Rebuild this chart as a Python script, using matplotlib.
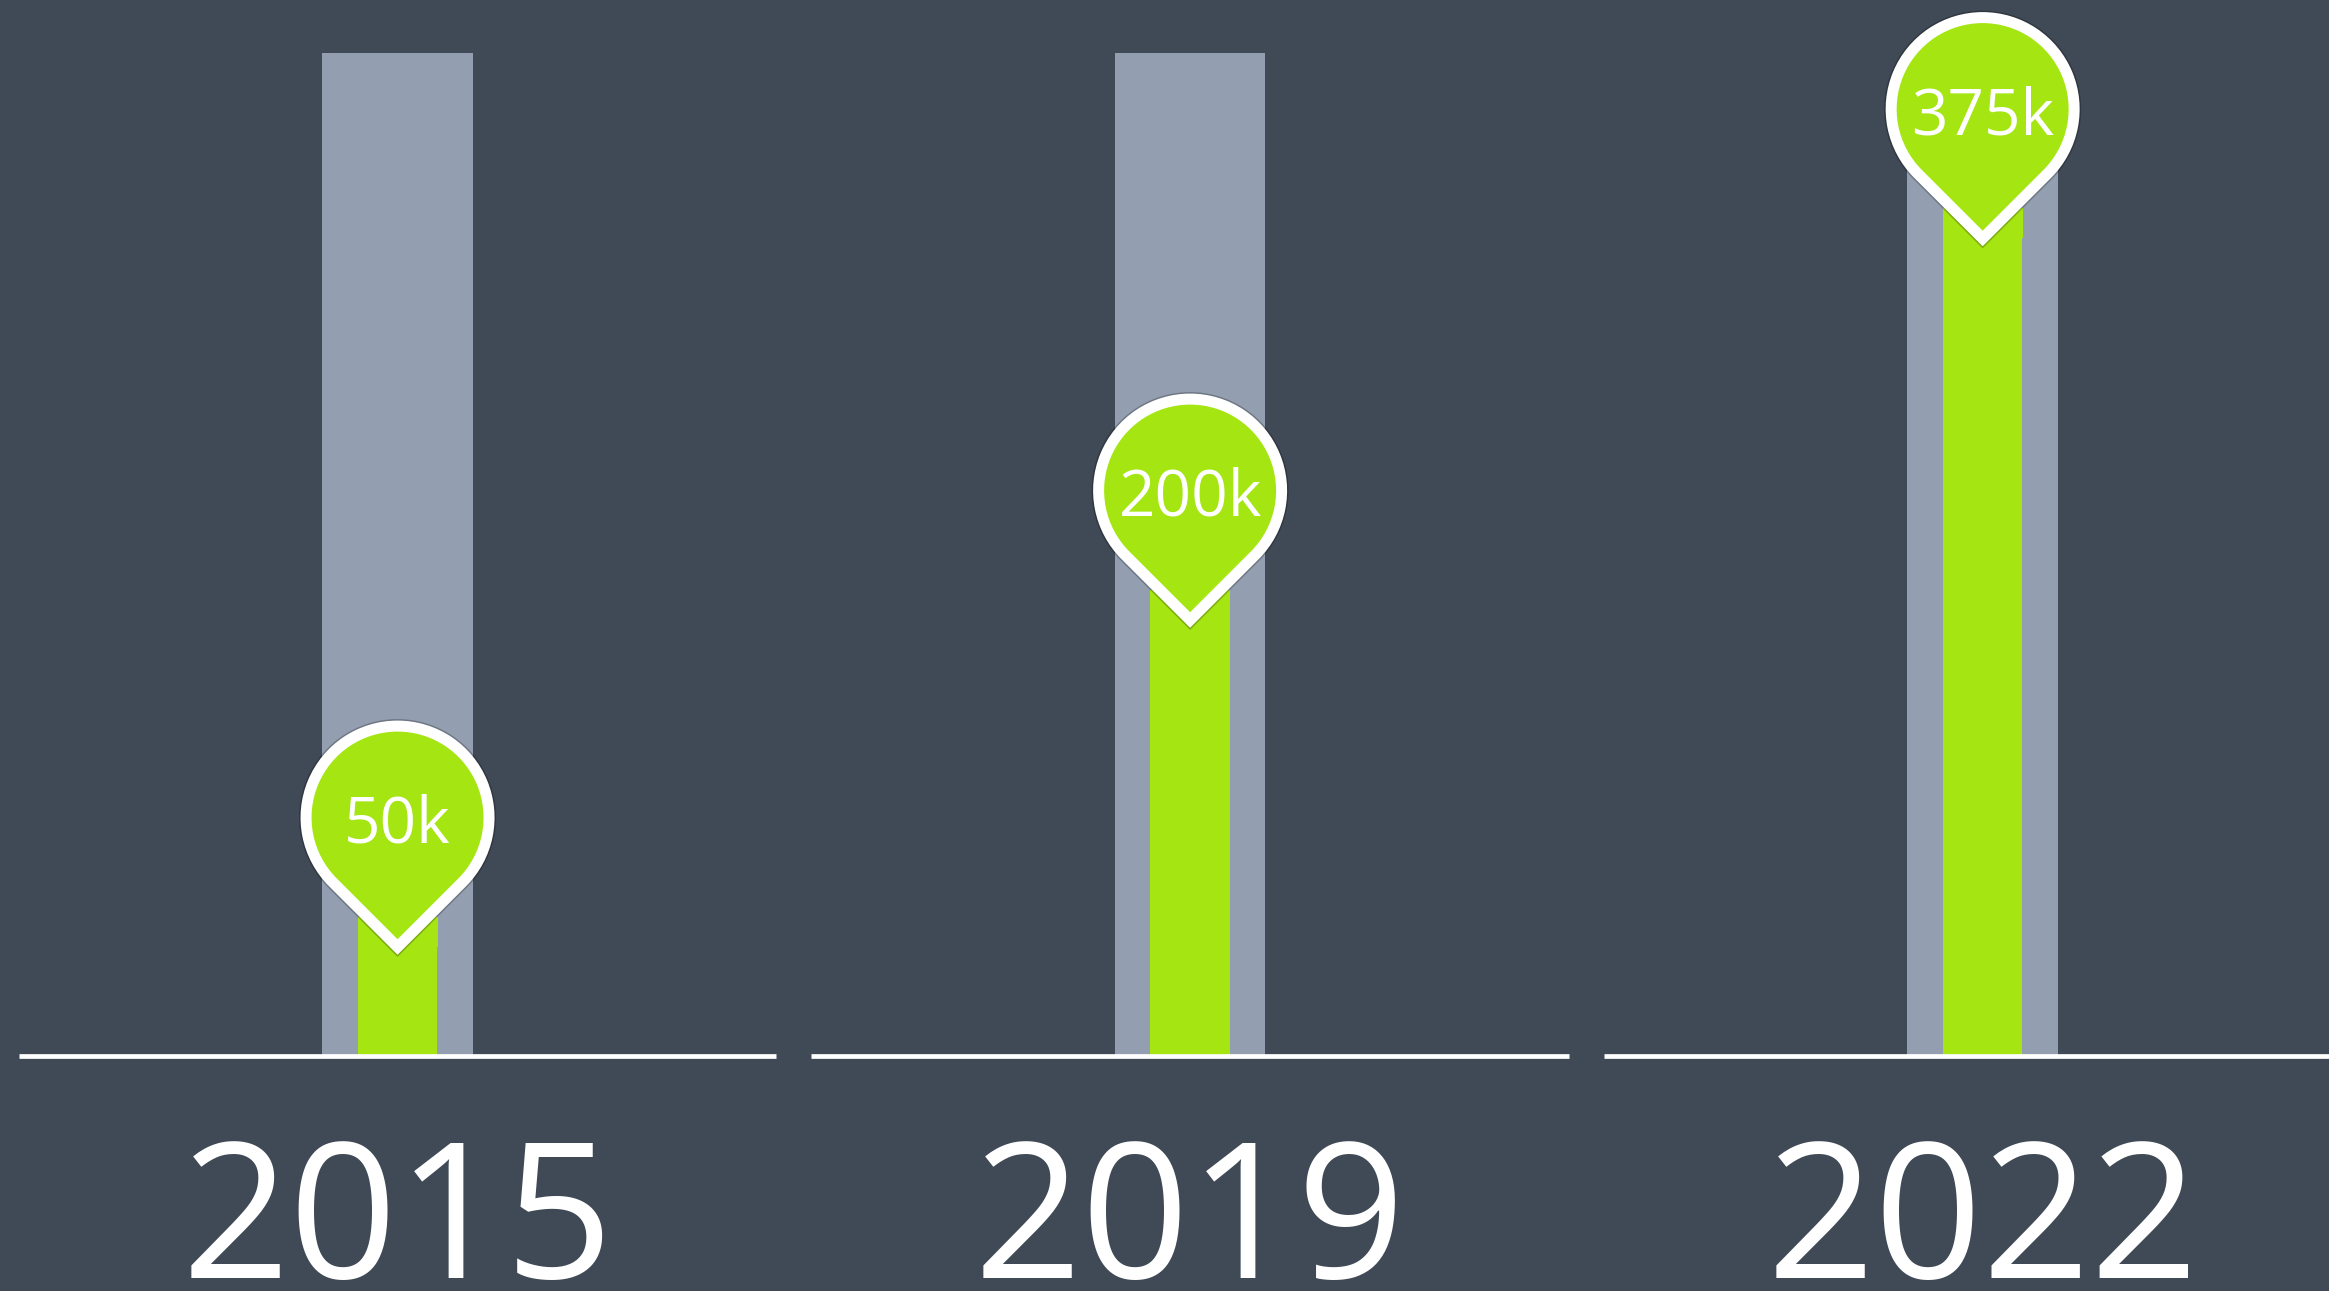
import numpy as np
import matplotlib.pyplot as plt
from matplotlib.path import Path
from matplotlib.patches import PathPatch, Rectangle
from matplotlib.transforms import ScaledTranslation

plt.rcParams["font.family"] = ["Open Sans", "DejaVu Sans"]

# data (thousands)
years = ["2015", "2019", "2022"]
values = [50, 200, 375]
labels = ["50k", "200k", "375k"]
track = [460, 460, 460]  # grey background bars

bg = "#404a56"
grey = "#939fb0"
green = "#a4e512"

W, H, DPI = 2329, 1291, 100
fig = plt.figure(figsize=(W / DPI, H / DPI), dpi=DPI, facecolor=bg)
ax = fig.add_axes([0, 0, 1, 1])
ax.set_facecolor(bg)
ax.set_xlim(-0.5016, 2.437)
ax.set_ylim(-107.8, 484.4)
ax.axis("off")

x = np.arange(len(years))
ax.bar(x, track, width=0.19, color=grey, zorder=1)
ax.bar(x, values, width=0.10, color=green, zorder=2)
ax.hlines(np.zeros(len(x)), x - 0.478, x + 0.478, color="white", lw=3.4, zorder=3)


def pin_path(r):
    # teardrop: circle of radius r with 45 degree tangents meeting at the tip (0, 0)
    arc = Path.arc(-45, 225)
    verts = arc.vertices * r + [0, r * np.sqrt(2)]
    verts = np.vstack([[0, 0], verts, [0, 0]])
    codes = np.concatenate([[Path.MOVETO, Path.LINETO], arc.codes[1:], [Path.CLOSEPOLY]])
    return Path(verts, codes)


r_px = 91.5
border_px = 11
pin = pin_path(r_px / DPI)
for xi, v, lab, yr in zip(x, values, labels, years):
    tr = fig.dpi_scale_trans + ScaledTranslation(xi, v, ax.transData)
    # green stem running up behind the pin tip
    ax.add_patch(Rectangle((-40 / DPI, 0), 80 / DPI, 30 / DPI, transform=tr,
                           color=green, lw=0, zorder=2))
    # soft shadow
    ax.add_patch(PathPatch(pin, transform=tr, facecolor="none", edgecolor="black",
                           alpha=0.25, lw=(border_px + 3) * 0.72, joinstyle="miter", zorder=4))
    ax.add_patch(PathPatch(pin, transform=tr, facecolor=green, edgecolor="white",
                           lw=border_px * 0.72, joinstyle="miter", zorder=5))
    ax.annotate(lab, xy=(xi, v), xytext=(0, 104 * 0.72), textcoords="offset points",
                ha="center", va="baseline", color="white", fontsize=46, zorder=6)
    ax.annotate(yr, xy=(xi, 0), xytext=(0, -222 * 0.72), textcoords="offset points",
                ha="center", va="baseline", color="white", fontsize=136, zorder=6)

fig.savefig("out.png", dpi=DPI, facecolor=bg)
